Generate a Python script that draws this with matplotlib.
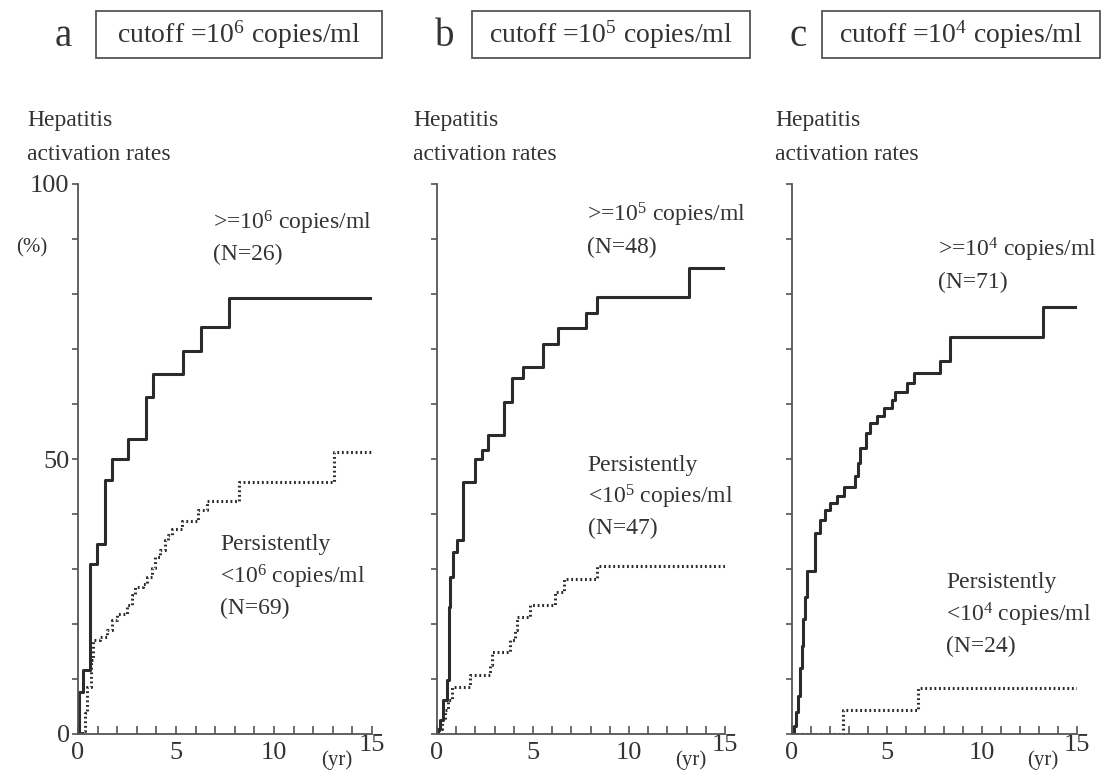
import numpy as np
import matplotlib
matplotlib.use('Agg')
import matplotlib.pyplot as plt
from matplotlib.patches import Rectangle
from matplotlib.transforms import ScaledTranslation

plt.rcParams['font.family'] = 'serif'
plt.rcParams['font.serif'] = ['Liberation Serif', 'DejaVu Serif']
plt.rcParams['mathtext.fontset'] = 'custom'
plt.rcParams['mathtext.rm'] = 'Liberation Serif'
plt.rcParams['mathtext.default'] = 'regular'

# cumulative hepatitis activation rates (%)
a_hi_t = [0, 0.06, 0.24, 0.61, 0.95, 1.38, 1.72, 2.53, 3.45, 3.84, 5.34, 6.28, 7.69, 14.9]
a_hi_v = [0, 7.7, 11.6, 30.9, 34.5, 46.1, 50.0, 53.7, 61.3, 65.5, 69.6, 74.0, 79.3, 79.3]
a_lo_t = [0, 0.19, 0.36, 0.48, 0.65, 0.78, 1.12, 1.46, 1.72, 1.97, 2.48, 2.74, 2.91, 3.33,
          3.50, 3.76, 3.93, 4.18, 4.44, 4.61, 4.78, 5.29, 6.14, 6.57, 8.23, 13.08, 15]
a_lo_v = [0, 0.5, 3.8, 8.6, 13.4, 17.1, 17.7, 18.9, 20.7, 21.9, 23.4, 25.2, 26.7, 27.3,
          28.5, 30.1, 32.2, 33.4, 35.2, 36.1, 37.3, 38.8, 40.7, 42.3, 45.9, 51.2, 51.2]

b_hi_t = [0, 0.05, 0.16, 0.33, 0.5, 0.6, 0.68, 0.85, 1.02, 1.37, 1.98, 2.33, 2.67, 3.5,
          3.89, 4.5, 5.54, 6.32, 7.74, 8.32, 13.14, 14.9]
b_hi_v = [0, 1.0, 2.5, 6.2, 9.8, 23.1, 28.6, 33.1, 35.3, 45.8, 50.0, 51.6, 54.3, 60.4,
          64.7, 66.7, 71.0, 73.8, 76.6, 79.4, 84.8, 84.8]
b_lo_t = [0, 0.1, 0.24, 0.42, 0.59, 0.76, 1.72, 2.76, 2.85, 3.80, 4.06, 4.18, 4.84, 6.15,
          6.61, 8.32, 15]
b_lo_v = [0, 1.0, 2.5, 4.4, 6.2, 8.6, 10.7, 12.5, 15.0, 17.1, 18.9, 21.3, 23.5, 25.9,
          28.1, 30.6, 30.6]

c_hi_t = [0, 0.10, 0.20, 0.30, 0.40, 0.50, 0.60, 0.70, 0.79, 1.23, 1.49, 1.75, 2.02, 2.37,
          2.72, 3.33, 3.47, 3.6, 3.91, 4.12, 4.47, 4.82, 5.26, 5.44, 6.05, 6.40, 7.8, 8.33,
          13.21, 15]
c_hi_v = [0, 1.5, 4, 7, 12, 16, 21, 25, 29.6, 36.6, 39.0, 40.8, 42.0, 43.2,
          45.0, 47.0, 49.3, 52.0, 54.8, 56.6, 57.8, 59.3, 60.8, 62.2, 63.9, 65.7, 67.9, 72.1,
          77.7, 77.7]
c_lo_t = [0, 2.68, 6.61, 15]
c_lo_v = [0, 4.4, 8.4, 8.4]

letters = ['a', 'b', 'c']
cutoffs = ['6', '5', '4']
n_hi = [26, 48, 71]
n_lo = [69, 47, 24]

curves = [(a_hi_t, a_hi_v, a_lo_t, a_lo_v),
          (b_hi_t, b_hi_v, b_lo_t, b_lo_v),
          (c_hi_t, c_hi_v, c_lo_t, c_lo_v)]

W, H = 1113, 773
ink = '#333333'
line_c = '#2b2b2b'

fig = plt.figure(figsize=(W / 100, H / 100), dpi=100)

# axes boxes in pixels (left, right)
ax_px = [(78, 372), (437, 725), (792, 1077)]
y0_px, y100_px = 734, 184
letter_x = [63, 445, 798]
box_px = [(96, 382), (472, 750), (822, 1100)]
hi_pos = [(6.9, 93.0), (7.8, 94.4), (7.7, 88.0)]
lo_pos = [(7.25, 34.4), (7.85, 48.9), (8.1, 27.5)]
hep_x = [-2.6, -1.25, -0.9]

for i in range(3):
    l, r = ax_px[i]
    ax = fig.add_axes([l / W, (H - y0_px) / H, (r - l) / W, (y0_px - y100_px) / H])
    hi_t, hi_v, lo_t, lo_v = curves[i]
    ax.plot(hi_t, hi_v, drawstyle='steps-post', color=line_c, lw=2.2)
    ax.plot(lo_t, lo_v, drawstyle='steps-post', color=line_c, lw=2.2, linestyle=(0, (0.6, 0.9)))

    ax.set_xlim(0, 15)
    ax.set_ylim(0, 100)
    for s in ['top', 'right']:
        ax.spines[s].set_visible(False)
    for s in ['left', 'bottom']:
        ax.spines[s].set_color('#555555')
        ax.spines[s].set_linewidth(1.3)

    ax.set_xticks([0, 5, 10, 15])
    ax.set_xticklabels(['0', '5', '10', '15'])
    ax.set_xticks(np.arange(0, 16, 1), minor=True)
    ax.tick_params(axis='x', which='both', direction='in', length=6, width=1.2,
                   colors='#555555', labelcolor=ink, labelsize=19, pad=6)
    ax.set_yticks([0, 50, 100])
    ax.set_yticks(np.arange(0, 101, 10), minor=True)
    ax.tick_params(axis='y', which='both', direction='out', length=4, width=1.2,
                   colors='#555555', labelcolor=ink, labelsize=19, pad=2)
    if i > 0:
        ax.set_yticklabels([])
    else:
        ax.text(-2.35, 88.4, '(%)', fontsize=15, color=ink, ha='center', va='center', clip_on=False)

    # raise the "15" label a little
    lab15 = ax.get_xticklabels()[3]
    lab15.set_transform(lab15.get_transform() + ScaledTranslation(0, 6 / 72, fig.dpi_scale_trans))
    ax.text(13.2, -4.8, '(yr)', fontsize=15, color=ink, ha='center', va='center', clip_on=False)

    ax.text(hep_x[i], 111.5, 'Hepatitis', fontsize=17, color=ink, ha='left', va='center', clip_on=False)
    ax.text(hep_x[i], 105.3, 'activation rates', fontsize=17, color=ink, ha='left', va='center', clip_on=False)

    hx, hy = hi_pos[i]
    ax.text(hx, hy, r'>=10$^{%s}$ copies/ml' % cutoffs[i], fontsize=17, color=ink, va='center')
    ax.text(hx, hy - 5.9, '(N=%d)' % n_hi[i], fontsize=17, color=ink, va='center')
    lx, ly = lo_pos[i]
    ax.text(lx, ly, 'Persistently', fontsize=17, color=ink, va='center')
    ax.text(lx, ly - 5.8, r'<10$^{%s}$ copies/ml' % cutoffs[i], fontsize=17, color=ink, va='center')
    ax.text(lx, ly - 11.6, '(N=%d)' % n_lo[i], fontsize=17, color=ink, va='center')

    # panel letter and cutoff box
    fig.text(letter_x[i] / W, 1 - 36 / H, letters[i], fontsize=28, color=ink, ha='center', va='center')
    bl, br = box_px[i]
    fig.patches.append(Rectangle((bl / W, 1 - 58 / H), (br - bl) / W, 47 / H, transform=fig.transFigure,
                                 fill=False, ec='#555555', lw=1.3))
    fig.text((bl + br) / 2 / W, 1 - 35 / H, r'cutoff =10$^{%s}$ copies/ml' % cutoffs[i],
             fontsize=20, color=ink, ha='center', va='center')

fig.savefig('out.png', dpi=100)
